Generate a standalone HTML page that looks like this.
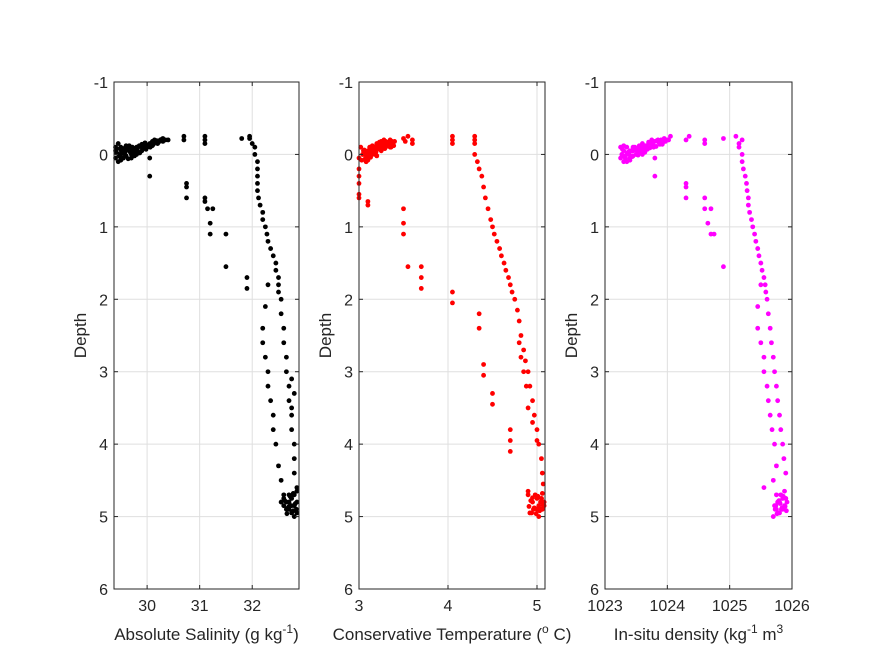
<!DOCTYPE html>
<html><head><meta charset="utf-8"><style>body{margin:0;background:#fff}svg{display:block}text{font-family:"Liberation Sans",sans-serif;fill:#262626}</style></head>
<body>
<svg id="fig" width="875" height="656" viewBox="0 0 875 656"></svg>
<script>
const yTicks=[-1,0,1,2,3,4,5,6];
const salTicks=[30,31,32];
const tempTicks=[3,4,5];
const denTicks=[1023,1024,1025,1026];
const salVals=[29.4,29.4,29.45,29.5,29.5,29.55,29.6,29.6,29.65,29.7,29.7,29.75,29.8,29.8,29.85,29.9,29.95,30.0,30.05,30.1,30.15,30.2,30.25,30.3,30.35,30.4,29.45,29.5,29.6,29.4,30.1,30.3,29.7,29.9,29.55,
29.42,29.48,29.52,29.58,29.62,29.68,29.72,29.78,29.82,29.88,29.92,29.98,30.02,30.08,30.12,30.18,30.22,30.28,29.42,29.5,29.58,29.66,29.74,29.82,29.9,29.98,30.06,30.14,30.22,29.46,29.54,29.64,29.76,29.86,29.96,
30.05,30.05,30.7,30.7,30.75,30.75,30.75,31.1,31.1,31.1,31.1,31.1,31.15,31.2,31.2,31.25,31.5,31.5,31.8,31.95,31.95,32.0,31.9,31.9,
32.05,32.05,32.1,32.1,32.1,32.1,32.1,32.12,32.15,32.2,32.2,32.25,32.28,32.3,32.35,32.4,32.45,32.45,32.5,32.5,32.5,32.55,32.55,32.6,32.6,32.65,32.65,32.7,32.7,32.75,32.75,32.8,32.8,32.8,32.85,
32.3,32.25,32.2,32.2,32.25,32.3,32.3,32.35,32.4,32.4,32.45,32.5,32.55,32.75,32.8,32.75,
32.6,32.65,32.7,32.75,32.8,32.85,32.7,32.6,32.65,32.75,32.8,32.85,32.55,32.7,32.8,32.85,32.6,32.75,32.62,32.68,32.72,32.78,32.82,32.66,32.74,32.84,32.7,32.78];
const salDepth=[0.05,-0.05,0.1,0.0,-0.1,0.05,-0.05,0.02,-0.1,0.0,-0.08,-0.05,-0.1,0.0,-0.12,-0.05,-0.12,-0.1,-0.15,-0.12,-0.17,-0.15,-0.2,-0.18,-0.2,-0.2,-0.15,0.08,-0.12,-0.1,-0.18,-0.22,0.05,-0.1,-0.08,
-0.02,0.03,-0.04,0.0,-0.06,-0.03,-0.1,-0.07,-0.09,-0.11,-0.08,-0.13,-0.12,-0.15,-0.14,-0.19,-0.17,-0.21,-0.08,-0.06,-0.09,-0.12,-0.02,-0.04,-0.14,-0.07,-0.1,-0.2,-0.18,0.0,-0.03,0.06,0.02,-0.02,-0.16,
0.05,0.3,-0.2,-0.25,0.4,0.45,0.6,-0.15,-0.2,-0.25,0.6,0.65,0.75,0.95,1.1,0.75,1.1,1.55,-0.22,-0.22,-0.25,-0.15,1.7,1.85,
-0.1,0.0,0.1,0.2,0.3,0.4,0.5,0.6,0.7,0.8,0.9,1.0,1.1,1.2,1.3,1.4,1.5,1.6,1.7,1.8,1.9,2.0,2.2,2.4,2.6,2.8,3.0,3.2,3.4,3.6,3.8,4.0,4.2,4.4,4.6,
1.8,2.1,2.4,2.6,2.8,3.0,3.2,3.4,3.6,3.8,4.0,4.3,4.5,3.1,3.3,3.5,
4.7,4.8,4.9,4.75,4.85,4.95,4.7,4.85,4.9,4.95,4.7,4.8,4.8,4.8,5.0,4.65,4.75,4.85,4.78,4.88,4.72,4.92,4.82,4.96,4.74,4.9,4.86,4.68];
const tempVals=[3.0,3.02,3.05,3.08,3.1,3.1,3.12,3.15,3.15,3.18,3.2,3.2,3.22,3.25,3.25,3.28,3.3,3.3,3.32,3.35,3.35,3.38,3.4,3.05,3.1,3.15,3.2,3.25,3.3,3.08,3.18,3.28,3.12,3.22,3.32,
3.04,3.07,3.09,3.11,3.13,3.14,3.16,3.17,3.19,3.21,3.23,3.24,3.26,3.27,3.29,3.31,3.33,3.36,3.06,3.09,3.13,3.17,3.21,3.24,3.27,3.3,3.34,3.37,3.39,3.03,3.11,3.19,3.23,3.29,3.36,
3.5,3.52,3.55,3.6,3.6,3.0,3.0,3.0,3.0,3.0,3.1,3.1,3.5,3.5,3.5,3.55,3.7,3.7,3.7,4.05,4.05,4.05,4.3,4.3,4.3,4.05,4.05,4.35,4.35,4.4,4.4,4.5,4.5,4.7,4.7,4.7,
4.3,4.33,4.35,4.38,4.4,4.42,4.45,4.48,4.5,4.52,4.55,4.58,4.6,4.63,4.65,4.68,4.7,4.72,4.75,4.78,4.8,4.82,4.85,4.87,4.9,4.92,4.95,4.97,5.0,5.02,5.05,5.06,5.07,
4.8,4.82,4.85,4.88,4.9,4.95,5.0,
4.9,4.95,5.0,5.05,5.08,4.92,4.98,5.02,5.06,4.94,5.0,5.04,5.08,4.96,5.02,4.9,5.05,5.07,4.93,4.97,5.01,5.03,5.07,4.99,4.95,5.04,4.91,5.06];
const tempDepth=[0.05,-0.1,0.0,0.1,-0.05,0.05,-0.1,0.0,-0.12,-0.05,0.02,-0.15,-0.1,-0.05,-0.15,-0.12,-0.1,-0.18,-0.15,-0.1,-0.2,-0.15,-0.18,-0.05,0.08,-0.08,-0.12,-0.18,-0.14,0.1,0.0,-0.2,-0.02,-0.1,-0.15,
0.0,0.06,-0.03,0.03,-0.07,-0.02,-0.09,-0.06,-0.03,-0.11,-0.07,-0.13,-0.09,-0.16,-0.12,-0.14,-0.17,-0.13,-0.06,0.02,0.04,-0.04,-0.14,-0.08,-0.1,-0.12,-0.16,-0.18,-0.12,0.08,-0.01,-0.07,-0.17,-0.08,-0.1,
-0.22,-0.18,-0.25,-0.2,-0.15,0.2,0.3,0.4,0.55,0.6,0.65,0.7,0.75,0.95,1.1,1.55,1.55,1.7,1.85,-0.2,-0.25,-0.15,-0.25,-0.2,-0.15,1.9,2.05,2.2,2.4,2.9,3.05,3.3,3.45,3.8,3.95,4.1,
0.0,0.1,0.2,0.3,0.45,0.6,0.75,0.9,1.0,1.1,1.2,1.3,1.4,1.5,1.6,1.7,1.8,1.9,2.0,2.15,2.3,2.5,2.7,2.85,3.0,3.2,3.4,3.6,3.8,4.0,4.2,4.4,4.55,
2.6,2.8,3.0,3.2,3.5,3.7,3.95,
4.7,4.8,4.9,4.75,4.85,4.95,4.7,4.85,4.9,4.95,4.75,4.8,4.8,4.9,5.0,4.65,4.75,4.85,4.78,4.88,4.72,4.92,4.82,4.96,4.74,4.9,4.86,4.68];
const denVals=[1023.25,1023.3,1023.3,1023.35,1023.35,1023.4,1023.4,1023.45,1023.45,1023.5,1023.5,1023.55,1023.55,1023.6,1023.6,1023.65,1023.7,1023.7,1023.75,1023.8,1023.85,1023.9,1023.95,1024.0,1024.05,1023.3,1023.4,1023.5,1023.6,1023.25,1023.35,1023.45,1023.65,1023.75,1023.85,
1023.27,1023.32,1023.37,1023.42,1023.47,1023.52,1023.57,1023.62,1023.67,1023.72,1023.77,1023.82,1023.87,1023.92,1023.97,1024.02,1023.28,1023.33,1023.38,1023.43,1023.48,1023.53,1023.58,1023.63,1023.68,1023.73,1023.78,1023.83,1023.88,1023.93,1023.3,1023.36,1023.44,1023.54,1023.64,
1023.8,1023.8,1024.3,1024.3,1024.3,1024.3,1024.35,1024.6,1024.6,1024.6,1024.6,1024.65,1024.7,1024.7,1024.75,1024.9,1024.9,1025.1,1025.15,1025.2,1025.15,1025.2,1025.2,
1025.22,1025.25,1025.27,1025.28,1025.3,1025.3,1025.32,1025.35,1025.37,1025.4,1025.42,1025.45,1025.47,1025.5,1025.52,1025.55,1025.57,1025.58,1025.6,1025.62,1025.65,1025.67,1025.7,1025.72,1025.75,1025.77,1025.8,1025.82,1025.85,1025.87,1025.9,
1025.55,1025.5,1025.45,1025.45,1025.5,1025.55,1025.55,1025.6,1025.62,1025.65,1025.68,1025.72,1025.75,
1025.7,1025.75,1025.8,1025.85,1025.9,1025.72,1025.78,1025.82,1025.88,1025.75,1025.8,1025.85,1025.92,1025.77,1025.83,1025.7,1025.88,1025.9,1025.74,1025.79,1025.84,1025.86,1025.91,1025.81,1025.76,1025.87,1025.73,1025.89];
const denDepth=[0.05,-0.05,0.1,0.0,-0.1,0.05,-0.05,0.02,-0.1,0.0,-0.08,-0.05,-0.12,-0.1,-0.15,-0.12,-0.17,-0.15,-0.2,-0.18,-0.2,-0.2,-0.22,-0.2,-0.25,-0.12,0.08,-0.08,0.0,-0.1,0.1,-0.05,-0.1,-0.15,-0.18,
0.0,0.04,-0.03,0.02,-0.06,-0.04,-0.08,-0.06,-0.1,-0.09,-0.13,-0.11,-0.16,-0.14,-0.18,-0.2,-0.07,0.06,-0.01,-0.05,-0.1,0.01,-0.03,-0.12,-0.07,-0.15,-0.1,-0.19,-0.14,-0.17,0.02,-0.02,0.03,-0.07,-0.03,
0.05,0.3,0.4,0.45,0.6,-0.2,-0.25,-0.2,-0.15,0.6,0.75,0.95,1.1,0.75,1.1,1.55,-0.22,-0.25,-0.15,-0.2,-0.1,0.0,
0.1,0.2,0.3,0.4,0.5,0.6,0.7,0.8,0.9,1.0,1.1,1.2,1.3,1.4,1.5,1.6,1.7,1.8,1.9,2.0,2.2,2.4,2.6,2.8,3.0,3.2,3.4,3.6,3.8,4.0,4.2,4.4,4.6,
1.8,2.1,2.4,2.6,2.8,3.0,3.2,3.4,3.6,3.8,4.0,4.3,4.5,
4.7,4.8,4.9,4.75,4.85,4.95,4.7,4.85,4.9,4.95,4.75,4.8,4.8,4.9,5.0,4.65,4.75,4.85,4.78,4.88,4.72,4.92,4.82,4.96,4.74,4.9,4.86,4.68];

const NS='http://www.w3.org/2000/svg';
const svg=document.getElementById('fig');
const Y0=82,Y1=589;
function yS(d){return Y0+(d+1)/7*(Y1-Y0);}
function mk(tag,attrs,parent){const e=document.createElementNS(NS,tag);for(const k in attrs)e.setAttribute(k,attrs[k]);(parent||svg).appendChild(e);return e;}
const panels=[
 {name:'salinity',x0:114,x1:299,lo:29.37,hi:32.89,ticks:salTicks,vals:salVals,dep:salDepth,color:'#000',label:'Absolute Salinity (g kg',sup:'-1',tail:')'},
 {name:'temperature',x0:359,x1:545,lo:3,hi:5.09,ticks:tempTicks,vals:tempVals,dep:tempDepth,color:'#ff0000',label:'Conservative Temperature (',sup:'o',tail:' C)'},
 {name:'density',x0:605,x1:792,lo:1023,hi:1026,ticks:denTicks,vals:denVals,dep:denDepth,color:'#ff00ff',label:'In-situ density (kg',sup:'-1',tail:' m',sup2:'3'}
];
panels.forEach(p=>{
 const xS=v=>p.x0+(v-p.lo)/(p.hi-p.lo)*(p.x1-p.x0);
 const g=mk('g',{});
 
 
 yTicks.forEach(t=>{const y=yS(t);mk('line',{x1:p.x0,x2:p.x1,y1:y,y2:y,stroke:'#dfdfdf','stroke-width':1},g);});
 p.ticks.forEach(t=>{const x=xS(t);mk('line',{x1:x,x2:x,y1:Y0,y2:Y1,stroke:'#dfdfdf','stroke-width':1},g);});
 const pts=mk('g',{fill:p.color},g);
 
 
 p.vals.forEach((v,i)=>{const c=mk('circle',{cx:xS(v),cy:yS(p.dep[i]),r:2.4},pts);
  
  });
 const box=mk('rect',{x:p.x0,y:Y0,width:p.x1-p.x0,height:Y1-Y0,fill:'none',stroke:'#262626','stroke-width':1},g);
 
 
 yTicks.forEach(t=>{const y=yS(t);
  mk('line',{x1:p.x0,x2:p.x0+4,y1:y,y2:y,stroke:'#262626'},g);
  mk('line',{x1:p.x1,x2:p.x1-4,y1:y,y2:y,stroke:'#262626'},g);
  const tx=mk('text',{x:p.x0-6,y:y+6,'text-anchor':'end','font-size':16},g);tx.textContent=t;
  
  });
 p.ticks.forEach(t=>{const x=xS(t);
  mk('line',{x1:x,x2:x,y1:Y1,y2:Y1-4,stroke:'#262626'},g);
  mk('line',{x1:x,x2:x,y1:Y0,y2:Y0+4,stroke:'#262626'},g);
  const tx=mk('text',{x:x,y:Y1+22,'text-anchor':'middle','font-size':16},g);tx.textContent=t;
  
  });
 const yl=mk('text',{x:0,y:0,'text-anchor':'middle','font-size':17,transform:`translate(${p.x0-28},${(Y0+Y1)/2}) rotate(-90)`},g);yl.textContent='Depth';
 
 
 const xl=mk('text',{x:(p.x0+p.x1)/2,y:640,'text-anchor':'middle','font-size':17},g);
 
 
 xl.appendChild(document.createTextNode(p.label));
 const s=mk('tspan',{dy:-7,'font-size':12},xl);s.textContent=p.sup;
 const t2=mk('tspan',{dy:7},xl);t2.textContent=p.tail;
 if(p.sup2){const s2=mk('tspan',{dy:-7,'font-size':12},xl);s2.textContent=p.sup2;}
});
</script>
</body></html>
